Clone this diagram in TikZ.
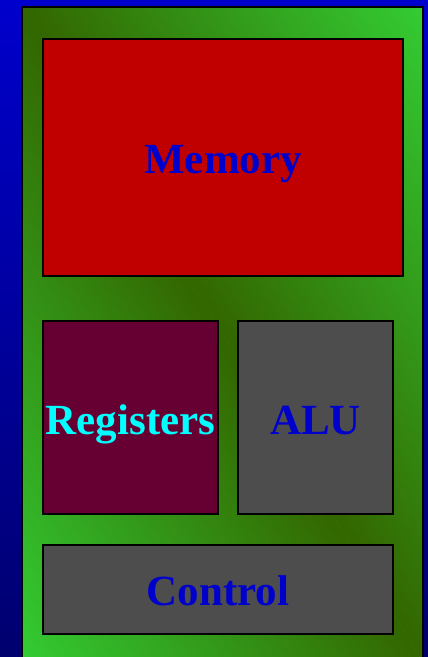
\documentclass[tikz,border=0pt]{standalone}
\usepackage{fontspec}
\setmainfont{Liberation Serif}
\definecolor{bgtop}{HTML}{0000CC}
\definecolor{bgbot}{HTML}{00006E}
\definecolor{gdark}{HTML}{336600}
\definecolor{gbright}{HTML}{33CC33}
\definecolor{memred}{HTML}{C00000}
\definecolor{regred}{HTML}{660033}
\definecolor{unitgray}{HTML}{4D4D4D}
\definecolor{labelblue}{HTML}{0000CC}
\definecolor{labelcyan}{HTML}{00FFFF}
\begin{document}
\begin{tikzpicture}[x=1pt,y=-1pt,
  unit/.style={draw=black, line width=2pt, rectangle, anchor=north west,
    inner sep=0pt, font=\fontsize{43}{50}\selectfont\bfseries,
    text height=33pt, text depth=0pt}]
\useasboundingbox (0,0) rectangle (428,657);
% blue background
\shade[top color=bgtop, bottom color=bgbot] (0,0) rectangle (428,657);
% green panel with diagonal gradient
\begin{scope}
  \clip (22.3,7) rectangle (422.7,670);
  \fill[gbright] (22.3,7) rectangle (422.7,670);
  \begin{scope}[transform canvas={cm={27.77,20,20,-32.7,(22.3pt,-7pt)}}]
    \shade[x=1pt,y=1pt,left color=gbright,right color=gdark] (-10,-2) rectangle (0,22);
    \shade[x=1pt,y=1pt,left color=gdark,right color=gbright] (0,-2) rectangle (10,22);
  \end{scope}
\end{scope}
\draw[line width=2pt] (22.3,7) rectangle (422.7,670);
% units
\node[unit, fill=memred, text=labelblue, minimum width=360.3pt, minimum height=237.5pt] (memory) at (42,37.5) {Memory};
\node[unit, fill=regred, text=labelcyan, minimum width=175pt, minimum height=193pt] (registers) at (42,320) {Registers};
\node[unit, fill=unitgray, text=labelblue, minimum width=155.6pt, minimum height=193pt] (alu) at (236.7,320) {ALU};
\node[unit, fill=unitgray, text=labelblue, minimum width=350.3pt, minimum height=88.8pt] (control) at (42,543.8) {Control};
\end{tikzpicture}
\end{document}
